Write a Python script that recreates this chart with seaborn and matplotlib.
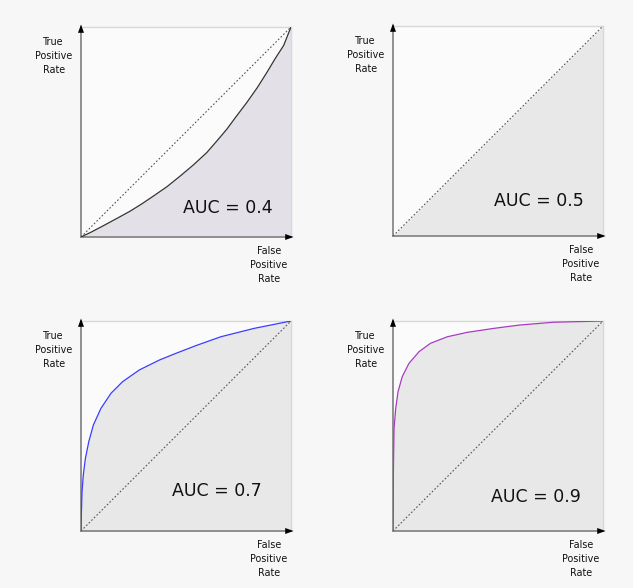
import numpy as np
import pandas as pd
import matplotlib
matplotlib.use("Agg")
import matplotlib.pyplot as plt
import seaborn as sns

sns.set_style("white")
plt.rcParams['font.family'] = ['DejaVu Sans']

# ROC curves
fpr_04 = [0.0, 0.05, 0.107, 0.17, 0.234, 0.29, 0.345, 0.41, 0.472, 0.535, 0.599, 0.645,
          0.695, 0.74, 0.79, 0.84, 0.886, 0.925, 0.965, 1.0]
tpr_04 = [0.0, 0.024, 0.054, 0.088, 0.123, 0.158, 0.195, 0.24, 0.29, 0.343, 0.402, 0.455,
          0.514, 0.575, 0.641, 0.712, 0.785, 0.85, 0.912, 1.0]

fpr_05 = [0.0, 1.0]
tpr_05 = [0.0, 1.0]

fpr_07 = [0.0, 0.001, 0.005, 0.011, 0.021, 0.037, 0.059, 0.095, 0.143, 0.198, 0.278,
          0.373, 0.452, 0.548, 0.666, 0.825, 1.0]
tpr_07 = [0.0, 0.06, 0.187, 0.267, 0.346, 0.425, 0.505, 0.584, 0.656, 0.711, 0.767,
          0.814, 0.846, 0.883, 0.925, 0.965, 1.0]

fpr_09 = [0.0, 0.001, 0.002, 0.005, 0.013, 0.024, 0.044, 0.076, 0.124, 0.179, 0.259,
          0.354, 0.481, 0.605, 0.764, 1.0]
tpr_09 = [0.0, 0.06, 0.298, 0.489, 0.584, 0.663, 0.735, 0.798, 0.854, 0.894, 0.925,
          0.946, 0.965, 0.981, 0.994, 1.0]

auc_labels = ["AUC = 0.4", "AUC = 0.5", "AUC = 0.7", "AUC = 0.9"]
curve_colors = ["#333333", None, "#3b3bff", "#a43cbf"]
fill_colors = ["#e4e0e8", "#e8e8e8", "#e8e8e8", "#e8e8e8"]
label_pos = [(0.70, 0.138), (0.695, 0.167), (0.648, 0.19), (0.68, 0.16)]

curves = [(fpr_04, tpr_04), (fpr_05, tpr_05), (fpr_07, tpr_07), (fpr_09, tpr_09)]

bg = "#f7f7f7"
fig = plt.figure(figsize=(6.33, 5.88), dpi=100, facecolor=bg)

W, H = 633, 588
origins = [(81, 237), (393, 236), (81, 531), (393, 531)]
size = 210

arrow_style = "-|>,head_length=0.75,head_width=0.27"

for i, ((fx, fy), (ox, oy)) in enumerate(zip(curves, origins)):
    ax = fig.add_axes([ox / W, (H - oy) / H, size / W, size / H])
    ax.set_facecolor("#fbfbfb")
    df = pd.DataFrame({"fpr": fx, "tpr": fy})
    ax.fill_between(df["fpr"], 0, df["tpr"], color=fill_colors[i], lw=0, zorder=1)
    # diagonal
    sns.lineplot(x=[0, 1], y=[0, 1], ax=ax, color="#555555", lw=0.8,
                 linestyle=(0, (1.5, 1.8)), zorder=3)
    if curve_colors[i] is not None:
        sns.lineplot(data=df, x="fpr", y="tpr", ax=ax, color=curve_colors[i],
                     lw=0.9, zorder=4, sort=False,
                     solid_joinstyle="round", solid_capstyle="round")
    ax.set_xlim(0, 1)
    ax.set_ylim(0, 1)
    ax.set_xticks([])
    ax.set_yticks([])
    ax.set_xlabel("")
    ax.set_ylabel("")
    for side in ["top", "right"]:
        ax.spines[side].set_color("#d8d8d8")
        ax.spines[side].set_linewidth(1.0)
    for side in ["left", "bottom"]:
        ax.spines[side].set_color("#888888")
        ax.spines[side].set_linewidth(1.3)
    # arrows
    ax.annotate("", xy=(0, 1.012), xytext=(0, 0.9), xycoords="axes fraction",
                arrowprops=dict(arrowstyle=arrow_style, color="black", lw=0,
                                mutation_scale=8, shrinkA=0, shrinkB=0),
                annotation_clip=False)
    ax.annotate("", xy=(1.012, 0), xytext=(0.9, 0), xycoords="axes fraction",
                arrowprops=dict(arrowstyle=arrow_style, color="black", lw=0,
                                mutation_scale=8, shrinkA=0, shrinkB=0),
                annotation_clip=False)
    lx, ly = label_pos[i]
    ax.text(lx, ly, auc_labels[i], transform=ax.transAxes, ha="center",
            va="center", fontsize=12.5, color="#111111", zorder=5)
    ax.text(-0.13, 0.86, "True\nPositive\nRate", transform=ax.transAxes,
            ha="center", va="center", fontsize=6.9, linespacing=1.5,
            color="#111111")
    ax.text(0.895, -0.133, "False\nPositive\nRate", transform=ax.transAxes,
            ha="center", va="center", fontsize=6.9, linespacing=1.5,
            color="#111111")

fig.savefig("out.png", dpi=100, facecolor=bg)
